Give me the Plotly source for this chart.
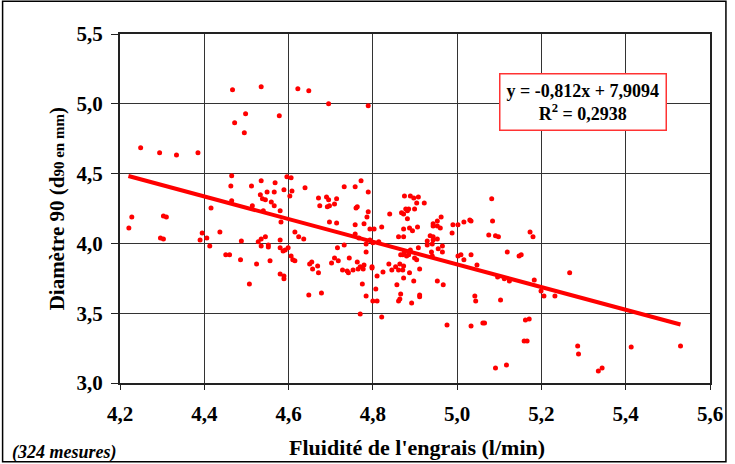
import plotly.graph_objects as go

# Data
fluidite = [
    4.467, 4.535, 4.622, 4.648, 4.695, 4.789, 4.498, 4.472, 4.495, 4.249,
    4.294, 4.334, 4.385, 4.578, 4.465, 4.463, 4.512, 4.535, 4.533, 4.538,
    4.465, 4.514, 4.416, 4.228, 4.221, 4.303, 4.310, 4.296, 4.303, 4.395,
    4.406, 4.390, 4.413, 4.437, 4.451, 4.460, 4.488, 4.486, 4.524, 4.528,
    4.535, 4.535, 4.507, 4.568, 4.596, 4.606, 4.549, 4.566, 4.589, 4.608,
    4.639, 4.545, 4.559, 4.566, 4.603, 4.540, 4.580, 4.671, 4.690, 4.695,
    4.714, 4.674, 4.692, 4.697, 4.709, 4.732, 4.758, 4.772, 4.789, 4.763,
    4.760, 4.789, 4.786, 4.779, 4.582, 4.697, 4.714, 4.758, 4.793, 4.803,
    4.821, 4.758, 4.767, 4.793, 4.800, 4.814, 4.840, 4.875, 4.889, 4.878,
    4.885, 4.868, 4.873, 4.873, 4.887, 4.861, 4.873, 4.615, 4.624, 4.580,
    4.545, 4.552, 4.552, 4.580, 4.587, 4.592, 4.599, 4.636, 4.732, 4.716,
    4.784, 4.784, 4.709, 4.718, 4.744, 4.763, 4.779, 4.770, 4.798, 4.824,
    4.838, 4.864, 4.873, 4.866, 4.871, 4.875, 4.885, 4.889, 4.854, 4.861,
    4.871, 4.606, 4.610, 4.615, 4.556, 4.650, 4.655, 4.669, 4.657, 4.671,
    4.702, 4.728, 4.739, 4.742, 4.753, 4.765, 4.777, 4.798, 4.580, 4.897,
    4.908, 4.922, 4.904, 4.882, 4.899, 4.882, 4.906, 4.894, 4.962, 4.953,
    4.943, 4.943, 4.953, 4.960, 4.990, 5.002, 5.016, 5.030, 5.033, 4.988,
    4.936, 4.943, 4.953, 4.943, 4.929, 4.929, 4.941, 4.965, 4.955, 4.965,
    4.908, 4.939, 4.941, 4.880, 4.899, 4.904, 4.911, 4.887, 5.002, 5.009,
    5.016, 5.033, 5.047, 5.082, 5.084, 5.075, 5.091, 5.098, 5.119, 5.147,
    5.152, 5.173, 5.180, 5.267, 4.589, 4.589, 4.648, 4.678, 4.775, 4.784,
    4.810, 4.807, 4.800, 4.810, 4.770, 4.821, 4.845, 4.857, 4.873, 4.866,
    4.864, 4.861, 4.892, 4.897, 4.953, 4.967, 4.911, 4.911, 4.976, 5.042,
    5.044, 5.096, 5.112, 5.124, 5.103, 5.183, 5.199, 5.206, 5.232, 5.033,
    5.061, 5.065, 5.162, 5.171, 5.159, 5.166, 5.091, 5.117, 5.286, 5.288,
    5.335, 5.344, 5.413, 5.530,
]
diametre90 = [
    5.100, 5.122, 5.108, 5.093, 5.000, 4.986, 4.928, 4.864, 4.792, 4.685,
    4.649, 4.634, 4.649, 4.914, 4.484, 4.412, 4.412, 4.448, 4.348, 4.319,
    4.305, 4.269, 4.254, 4.190, 4.111, 4.197, 4.190, 4.039, 4.032, 4.075,
    4.039, 4.025, 3.982, 4.082, 3.918, 3.918, 4.018, 3.882, 3.853, 4.011,
    4.032, 3.982, 3.710, 4.434, 4.477, 4.470, 4.369, 4.369, 4.384, 4.376,
    4.398, 4.312, 4.297, 4.269, 4.340, 4.233, 4.233, 4.326, 4.333, 4.312,
    4.319, 4.269, 4.262, 4.269, 4.283, 4.405, 4.405, 4.448, 4.369, 4.262,
    4.254, 4.226, 4.190, 4.140, 4.154, 4.154, 4.147, 4.133, 4.104, 4.104,
    4.118, 4.068, 4.039, 4.025, 4.004, 4.011, 4.211, 4.340, 4.340, 4.247,
    4.247, 4.219, 4.211, 4.104, 4.111, 4.047, 4.047, 4.082, 4.047, 4.025,
    4.047, 3.989, 3.975, 3.968, 3.946, 3.953, 3.968, 4.032, 3.989, 3.968,
    3.996, 3.939, 3.896, 3.875, 3.896, 3.867, 3.846, 3.832, 3.832, 3.796,
    3.853, 3.853, 3.839, 3.918, 3.918, 3.939, 3.918, 3.953, 3.832, 3.810,
    3.810, 3.910, 3.882, 3.875, 3.875, 3.853, 3.867, 3.839, 3.817, 3.789,
    3.860, 3.810, 3.803, 3.789, 3.810, 3.817, 3.817, 3.824, 3.781, 4.326,
    4.333, 4.290, 4.290, 4.233, 4.247, 4.176, 4.118, 4.090, 4.190, 4.161,
    4.140, 4.125, 4.125, 4.111, 4.133, 4.133, 4.154, 4.168, 4.161, 4.075,
    4.054, 4.047, 4.032, 4.025, 4.018, 3.989, 3.996, 3.982, 3.961, 3.939,
    3.968, 3.939, 3.910, 3.910, 3.896, 3.882, 3.817, 3.789, 3.910, 3.918,
    3.882, 3.918, 3.846, 4.319, 4.161, 4.061, 4.054, 4.047, 3.939, 3.910,
    3.918, 4.082, 4.047, 3.789, 3.767, 3.746, 3.631, 3.645, 3.710, 3.624,
    3.767, 3.674, 3.588, 3.588, 3.495, 3.473, 3.810, 3.703, 3.753, 3.638,
    3.602, 3.588, 3.573, 3.731, 3.731, 3.703, 3.631, 3.617, 3.416, 3.624,
    3.588, 3.760, 3.746, 3.731, 3.595, 3.738, 3.659, 3.624, 3.624, 3.409,
    3.430, 3.430, 3.452, 3.459, 3.301, 3.301, 3.108, 3.129, 3.265, 3.208,
    3.086, 3.108, 3.258, 3.265,
]

slope = -0.812
intercept = 7.9094
trend_x = [4.22, 5.53]
trend_y = [slope * v + intercept for v in trend_x]

x_ticks = [4.2, 4.4, 4.6, 4.8, 5.0, 5.2, 5.4, 5.6]
y_ticks = [3.0, 3.5, 4.0, 4.5, 5.0, 5.5]

FONT = "Liberation Serif"

fig = go.Figure()
fig.add_trace(go.Scatter(
    x=fluidite, y=diametre90, mode="markers",
    marker=dict(color="#FF0000", size=5, line=dict(width=0)),
    showlegend=False, hoverinfo="skip",
))
fig.add_trace(go.Scatter(
    x=trend_x, y=trend_y, mode="lines",
    line=dict(color="#FF0000", width=4),
    showlegend=False, hoverinfo="skip",
))

fig.update_layout(
    width=735, height=464,
    margin=dict(l=120, r=18, t=34, b=81),
    paper_bgcolor="white", plot_bgcolor="white",
    separators=", ",
    font=dict(family=FONT, size=21, color="black"),
    xaxis=dict(
        range=[4.2, 5.6], tickvals=x_ticks, tickformat=".1f",
        showgrid=True, gridcolor="#333333", gridwidth=1,
        showline=True, linecolor="#222222", linewidth=2, mirror=True,
        ticks="outside", ticklen=5, tickcolor="#222222",
        tickfont=dict(family=FONT, size=21, color="black", weight="bold"),
        ticklabelstandoff=6, zeroline=False,
    ),
    yaxis=dict(
        range=[3.0, 5.5], tickvals=y_ticks, tickformat=".1f",
        showgrid=True, gridcolor="#333333", gridwidth=1,
        showline=True, linecolor="#222222", linewidth=2, mirror=True,
        ticks="outside", ticklen=7, tickcolor="#222222",
        tickfont=dict(family=FONT, size=21, color="black", weight="bold"),
        ticklabelstandoff=4, zeroline=False,
    ),
    annotations=[
        dict(
            text="<b>y = -0,812x + 7,9094<br>R<sup>2</sup> = 0,2938</b>",
            xref="paper", yref="paper", x=0.785, y=0.805,
            xanchor="center", yanchor="middle", showarrow=False,
            font=dict(family=FONT, size=18, color="black"),
            bgcolor="white", bordercolor="#FF3333", borderwidth=1.5,
            borderpad=6, align="center",
        ),
        dict(
            text="<b>Fluidité de l'engrais (l/min)</b>",
            xref="paper", yref="paper", x=0.504, y=-0.184,
            xanchor="center", yanchor="middle", showarrow=False,
            font=dict(family=FONT, size=22, color="black"),
        ),
        dict(
            text="<b>Diamètre 90 (d<span style='font-size:15px'>90 en mm</span>)</b>",
            xref="paper", yref="paper", x=-0.107, y=0.5,
            xanchor="center", yanchor="middle", showarrow=False, textangle=-90,
            font=dict(family=FONT, size=21, color="black"),
        ),
        dict(
            text="<b><i>(324 mesures)</i></b>",
            xref="paper", yref="paper", x=-0.186, y=-0.199,
            xanchor="left", yanchor="middle", showarrow=False,
            font=dict(family=FONT, size=18, color="black"),
        ),
    ],
    shapes=[
        dict(type="rect", xref="paper", yref="paper",
             x0=-0.199, x1=1.027, y0=-0.226, y1=1.094,
             line=dict(color="black", width=1.5), fillcolor="rgba(0,0,0,0)",
             layer="below"),
    ],
)

fig.write_html("out.html")
